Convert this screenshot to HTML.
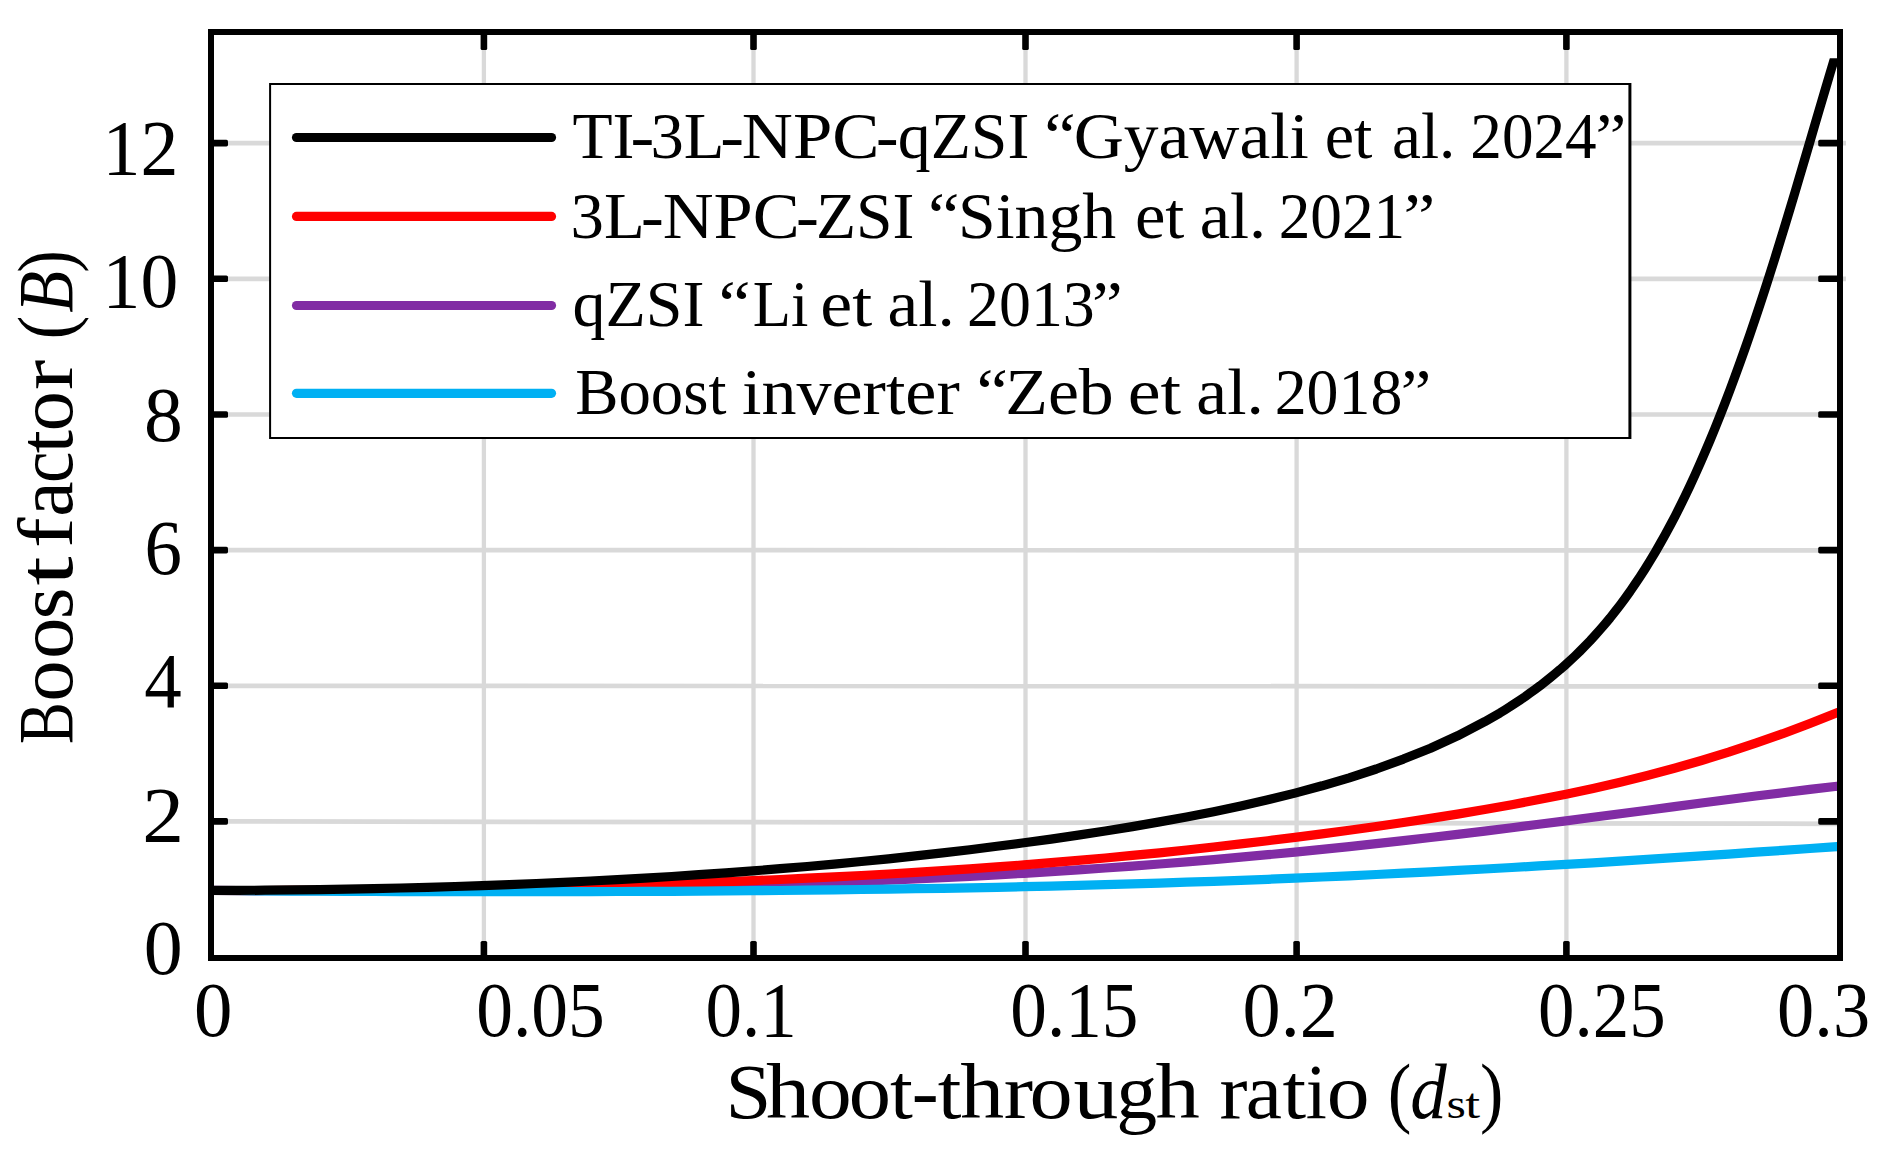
<!DOCTYPE html>
<html><head><meta charset="utf-8"><title>Boost factor vs shoot-through ratio</title>
<style>html,body{margin:0;padding:0;background:#fff}svg{display:block}</style></head>
<body>
<svg width="1884" height="1159" viewBox="0 0 1884 1159" font-family="'Liberation Serif', serif" fill="#000">
<rect width="1884" height="1159" fill="#fff"/>
<g stroke="#d9d9d9" stroke-width="4.7" fill="none">
<line x1="483.9" y1="35" x2="483.9" y2="955" stroke-width="4.3"/>
<line x1="753.5" y1="35" x2="753.5" y2="955" stroke-width="4.3"/>
<line x1="1025.5" y1="35" x2="1025.5" y2="955" stroke-width="4.3"/>
<line x1="1296.6" y1="35" x2="1296.6" y2="955" stroke-width="4.3"/>
<line x1="1566.4" y1="35" x2="1566.4" y2="955" stroke-width="4.3"/>
<line x1="214" y1="821.4" x2="1837" y2="823.8"/>
<line x1="214" y1="685.8" x2="1837" y2="686.4"/>
<line x1="214" y1="550.1" x2="1837" y2="550.4"/>
<line x1="214" y1="414.5" x2="1837" y2="414.5"/>
<line x1="214" y1="278.8" x2="1846" y2="278.8"/>
<line x1="214" y1="143.1" x2="1846" y2="143.1"/>
</g>
<rect x="270.1" y="84" width="1359.6" height="354" fill="#fff" stroke="#000" stroke-width="2"/>
<line x1="1630" y1="83" x2="1630" y2="439" stroke="#000" stroke-width="2.8"/>
<clipPath id="c"><rect x="211" y="58.3" width="1629" height="900"/></clipPath>
<g clip-path="url(#c)" fill="none" stroke-width="9.2" stroke-linejoin="round">
<path d="M211.0 890.3 L238.1 890.5 L265.2 890.6 L292.3 890.7 L319.4 890.7 L346.5 890.7 L373.6 890.6 L400.7 890.5 L427.8 890.4 L454.9 890.2 L482.0 890.0 L509.1 889.7 L536.2 889.4 L563.3 889.0 L590.4 888.6 L617.5 888.1 L644.6 887.6 L671.7 887.1 L698.8 886.4 L725.9 885.7 L753.0 885.0 L780.1 884.1 L807.2 883.2 L834.3 882.3 L861.4 881.2 L888.5 880.1 L915.6 878.9 L942.7 877.6 L969.8 876.3 L996.9 874.8 L1024.0 873.3 L1051.1 871.6 L1078.2 869.9 L1105.3 868.0 L1132.4 866.1 L1159.5 864.0 L1186.6 861.8 L1213.7 859.6 L1240.8 857.2 L1267.9 854.7 L1295.0 852.1 L1322.1 849.4 L1349.2 846.6 L1376.3 843.6 L1403.4 840.6 L1430.5 837.5 L1457.6 834.4 L1484.7 831.1 L1511.8 827.7 L1538.9 824.3 L1566.0 820.9 L1593.1 817.3 L1620.2 813.8 L1647.3 810.2 L1674.4 806.6 L1701.5 803.0 L1728.6 799.5 L1755.7 796.0 L1782.8 792.7 L1809.9 789.4 L1837.0 786.3 L1840.5 786.0" stroke="#812ca4"/>
<path d="M211.0 890.5 L238.1 890.6 L265.2 890.5 L292.3 890.4 L319.4 890.3 L346.5 890.1 L373.6 889.9 L400.7 889.6 L427.8 889.2 L454.9 888.8 L482.0 888.4 L509.1 887.9 L536.2 887.3 L563.3 886.7 L590.4 886.0 L617.5 885.3 L644.6 884.5 L671.7 883.6 L698.8 882.7 L725.9 881.7 L753.0 880.6 L780.1 879.5 L807.2 878.2 L834.3 876.9 L861.4 875.5 L888.5 874.0 L915.6 872.4 L942.7 870.7 L969.8 868.9 L996.9 866.9 L1024.0 864.9 L1051.1 862.7 L1078.2 860.4 L1105.3 858.0 L1132.4 855.4 L1159.5 852.8 L1186.6 850.0 L1213.7 847.0 L1240.8 843.9 L1267.9 840.7 L1295.0 837.4 L1322.1 833.9 L1349.2 830.3 L1376.3 826.5 L1403.4 822.5 L1430.5 818.4 L1457.6 814.1 L1484.7 809.5 L1511.8 804.7 L1538.9 799.6 L1566.0 794.2 L1593.1 788.4 L1620.2 782.2 L1647.3 775.5 L1674.4 768.3 L1701.5 760.5 L1728.6 752.2 L1755.7 743.2 L1782.8 733.7 L1809.9 723.5 L1837.0 712.8 L1840.5 711.4" stroke="#ff0000"/>
<path d="M211.0 890.5 L238.1 890.7 L265.2 890.9 L292.3 891.1 L319.4 891.2 L346.5 891.4 L373.6 891.5 L400.7 891.6 L427.8 891.7 L454.9 891.7 L482.0 891.7 L509.1 891.7 L536.2 891.7 L563.3 891.7 L590.4 891.6 L617.5 891.5 L644.6 891.4 L671.7 891.3 L698.8 891.1 L725.9 890.9 L753.0 890.7 L780.1 890.5 L807.2 890.2 L834.3 889.9 L861.4 889.5 L888.5 889.1 L915.6 888.7 L942.7 888.3 L969.8 887.8 L996.9 887.3 L1024.0 886.7 L1051.1 886.1 L1078.2 885.4 L1105.3 884.7 L1132.4 883.9 L1159.5 883.1 L1186.6 882.2 L1213.7 881.3 L1240.8 880.3 L1267.9 879.3 L1295.0 878.1 L1322.1 877.0 L1349.2 875.8 L1376.3 874.5 L1403.4 873.2 L1430.5 871.8 L1457.6 870.4 L1484.7 869.0 L1511.8 867.5 L1538.9 865.9 L1566.0 864.4 L1593.1 862.8 L1620.2 861.1 L1647.3 859.4 L1674.4 857.7 L1701.5 855.9 L1728.6 854.1 L1755.7 852.2 L1782.8 850.4 L1809.9 848.5 L1837.0 846.6 L1840.5 846.3" stroke="#00b0f3"/>
<path d="M211.0 890.4 L238.1 890.4 L265.2 890.2 L292.3 889.9 L319.4 889.6 L346.5 889.2 L373.6 888.6 L400.7 888.0 L427.8 887.3 L454.9 886.5 L482.0 885.6 L509.1 884.6 L536.2 883.5 L563.3 882.3 L590.4 881.0 L617.5 879.6 L644.6 878.1 L671.7 876.5 L698.8 874.7 L725.9 872.8 L753.0 870.9 L780.1 868.7 L807.2 866.5 L834.3 864.1 L861.4 861.5 L888.5 858.8 L915.6 855.9 L942.7 852.9 L969.8 849.7 L996.9 846.3 L1024.0 842.8 L1051.1 839.1 L1078.2 835.1 L1105.3 831.0 L1132.4 826.6 L1159.5 821.9 L1186.6 817.0 L1213.7 811.7 L1240.8 805.9 L1267.9 799.8 L1295.0 793.1 L1322.1 785.8 L1349.2 777.8 L1376.3 769.0 L1403.4 759.1 L1430.5 748.2 L1457.6 735.8 L1484.7 721.7 L1500.0 712.9 L1505.0 709.8 L1510.0 706.7 L1515.0 703.4 L1520.0 700.1 L1525.0 696.7 L1530.0 693.1 L1535.0 689.5 L1540.0 685.8 L1545.0 681.9 L1550.0 677.9 L1555.0 673.8 L1560.0 669.6 L1565.0 665.2 L1570.0 660.7 L1575.0 656.0 L1580.0 651.1 L1585.0 646.1 L1590.0 640.9 L1595.0 635.4 L1600.0 629.8 L1605.0 624.0 L1610.0 618.0 L1615.0 611.7 L1620.0 605.2 L1625.0 598.4 L1630.0 591.5 L1635.0 584.2 L1640.0 576.7 L1645.0 568.9 L1650.0 560.9 L1655.0 552.6 L1660.0 543.9 L1665.0 535.0 L1670.0 525.8 L1675.0 516.3 L1680.0 506.4 L1685.0 496.2 L1690.0 485.7 L1695.0 474.9 L1700.0 463.7 L1705.0 452.2 L1710.0 440.4 L1715.0 428.3 L1720.0 415.8 L1725.0 403.0 L1730.0 389.9 L1735.0 376.4 L1740.0 362.7 L1745.0 348.6 L1750.0 334.2 L1755.0 319.5 L1760.0 304.5 L1765.0 289.2 L1770.0 273.6 L1775.0 257.8 L1780.0 241.7 L1785.0 225.4 L1790.0 208.9 L1795.0 192.2 L1800.0 175.3 L1805.0 158.4 L1810.0 141.4 L1815.0 124.3 L1820.0 107.3 L1825.0 90.4 L1830.0 73.5 L1835.0 56.9 L1836.0 53.6" stroke="#000000"/>
</g>
<rect x="211" y="32" width="1629" height="926" fill="none" stroke="#000" stroke-width="6"/>
<g fill="#000">
<rect x="480.6" y="941" width="6.6" height="16" rx="1.6"/>
<rect x="480.6" y="33" width="6.6" height="17" rx="1.6"/>
<rect x="750.2" y="941" width="6.6" height="16" rx="1.6"/>
<rect x="750.2" y="33" width="6.6" height="17" rx="1.6"/>
<rect x="1022.2" y="941" width="6.6" height="16" rx="1.6"/>
<rect x="1022.2" y="33" width="6.6" height="17" rx="1.6"/>
<rect x="1293.3" y="941" width="6.6" height="16" rx="1.6"/>
<rect x="1293.3" y="33" width="6.6" height="17" rx="1.6"/>
<rect x="1563.1" y="941" width="6.6" height="16" rx="1.6"/>
<rect x="1563.1" y="33" width="6.6" height="17" rx="1.6"/>
<rect x="212" y="818.1" width="16" height="6.6" rx="1.6"/>
<rect x="1818.2" y="818.1" width="21" height="6.6" rx="1.6"/>
<rect x="212" y="682.5" width="16" height="6.6" rx="1.6"/>
<rect x="1818.2" y="682.5" width="21" height="6.6" rx="1.6"/>
<rect x="212" y="546.8" width="16" height="6.6" rx="1.6"/>
<rect x="1818.2" y="546.8" width="21" height="6.6" rx="1.6"/>
<rect x="212" y="411.2" width="16" height="6.6" rx="1.6"/>
<rect x="1818.2" y="411.2" width="21" height="6.6" rx="1.6"/>
<rect x="212" y="275.5" width="16" height="6.6" rx="1.6"/>
<rect x="1818.2" y="275.5" width="21" height="6.6" rx="1.6"/>
<rect x="212" y="139.8" width="16" height="6.6" rx="1.6"/>
<rect x="1818.2" y="139.8" width="21" height="6.6" rx="1.6"/>
</g>
<g stroke-width="9.2" stroke-linecap="round">
<line x1="296.5" y1="137.5" x2="551.5" y2="137.5" stroke="#000"/>
<line x1="296.5" y1="216.4" x2="551.5" y2="216.4" stroke="#ff0000"/>
<line x1="296.5" y1="305.5" x2="551.5" y2="305.5" stroke="#812ca4"/>
<line x1="296.5" y1="393.3" x2="551.5" y2="393.3" stroke="#00b0f3"/>
</g>
<text transform="translate(572.46 158.10) scale(0.9940 1.0000)" font-size="66">TI</text>
<text transform="translate(630.49 158.10) scale(1.0824 1.0000)" font-size="66">-</text>
<text transform="translate(650.52 158.10) scale(1.0091 1.0000)" font-size="66">3L</text>
<text transform="translate(720.29 158.10) scale(1.0824 1.0000)" font-size="66">-</text>
<text transform="translate(741.85 158.10) scale(1.0729 1.0000)" font-size="66">NPC</text>
<text transform="translate(875.94 158.10) scale(1.0235 1.0000)" font-size="66">-</text>
<text transform="translate(897.76 158.10) scale(0.9969 1.0000)" font-size="66">qZSI</text>
<text transform="translate(1044.31 158.10) scale(1.0753 1.0000)" font-size="66">“</text>
<text transform="translate(1073.71 158.10) scale(1.0519 1.0000)" font-size="66">Gyawali</text>
<text transform="translate(1324.70 158.10) scale(1.0011 1.0000)" font-size="66">et</text>
<text transform="translate(1391.98 158.10) scale(0.9870 1.0000)" font-size="66">al.</text>
<text transform="translate(1470.33 158.10) scale(0.9562 1.0000)" font-size="66">2024</text>
<text transform="translate(1595.51 158.10) scale(1.0511 1.0000)" font-size="66">”</text>
<text transform="translate(570.51 237.70) scale(1.0121 1.0000)" font-size="66">3L</text>
<text transform="translate(641.01 237.70) scale(1.0353 1.0000)" font-size="66">-</text>
<text transform="translate(662.67 237.70) scale(1.0672 1.0000)" font-size="66">NPC</text>
<text transform="translate(796.10 237.70) scale(1.0412 1.0000)" font-size="66">-</text>
<text transform="translate(816.07 237.70) scale(0.9936 1.0000)" font-size="66">ZSI</text>
<text transform="translate(928.01 237.70) scale(1.0753 1.0000)" font-size="66">“</text>
<text transform="translate(958.08 237.70) scale(1.0266 1.0000)" font-size="66">Singh</text>
<text transform="translate(1134.90 237.70) scale(1.0391 1.0000)" font-size="66">et</text>
<text transform="translate(1199.67 237.70) scale(1.0372 1.0000)" font-size="66">al.</text>
<text transform="translate(1278.72 237.70) scale(0.9584 1.0000)" font-size="66">2021</text>
<text transform="translate(1403.52 237.70) scale(1.0851 1.0000)" font-size="66">”</text>
<text transform="translate(572.55 325.90) scale(0.9992 1.0000)" font-size="66">qZSI</text>
<text transform="translate(718.54 325.90) scale(1.0968 1.0000)" font-size="66">“</text>
<text transform="translate(752.70 325.90) scale(0.9484 1.0000)" font-size="66">Li</text>
<text transform="translate(820.27 325.90) scale(1.0905 1.0000)" font-size="66">et</text>
<text transform="translate(887.44 325.90) scale(1.0494 1.0000)" font-size="66">al.</text>
<text transform="translate(967.10 325.90) scale(0.9676 1.0000)" font-size="66">2013</text>
<text transform="translate(1092.12 325.90) scale(1.0468 1.0000)" font-size="66">”</text>
<text transform="translate(575.24 413.90) scale(0.9819 1.0000)" font-size="66">Boost</text>
<text transform="translate(742.07 413.90) scale(1.0609 1.0000)" font-size="66">inverter</text>
<text transform="translate(976.51 413.90) scale(1.0753 1.0000)" font-size="66">“</text>
<text transform="translate(1005.26 413.90) scale(1.0574 1.0000)" font-size="66">Zeb</text>
<text transform="translate(1127.70 413.90) scale(1.1218 1.0000)" font-size="66">et</text>
<text transform="translate(1196.33 413.90) scale(1.0528 1.0000)" font-size="66">al.</text>
<text transform="translate(1274.70 413.90) scale(0.9676 1.0000)" font-size="66">2018</text>
<text transform="translate(1400.63 413.90) scale(1.0426 1.0000)" font-size="66">”</text>
<text transform="translate(194.02 1036.20) scale(0.9924 1.0000)" font-size="77.5">0</text>
<text transform="translate(476.15 1036.20) scale(0.9495 1.0000)" font-size="77.5">0.05</text>
<text transform="translate(705.47 1036.20) scale(0.9423 1.0000)" font-size="77.5">0.1</text>
<text transform="translate(1010.27 1036.20) scale(0.9449 1.0000)" font-size="77.5">0.15</text>
<text transform="translate(1242.55 1036.20) scale(0.9838 1.0000)" font-size="77.5">0.2</text>
<text transform="translate(1537.97 1036.20) scale(0.9418 1.0000)" font-size="77.5">0.25</text>
<text transform="translate(1777.12 1036.20) scale(0.9604 1.0000)" font-size="77.5">0.3</text>
<text transform="translate(143.69 974.30) scale(1.0046 1.0000)" font-size="77.5">0</text>
<text transform="translate(142.23 840.88) scale(1.0774 1.0000)" font-size="77.5">2</text>
<text transform="translate(144.15 707.46) scale(0.9667 1.0000)" font-size="77.5">4</text>
<text transform="translate(144.45 574.04) scale(0.9684 1.0000)" font-size="77.5">6</text>
<text transform="translate(144.00 440.62) scale(1.0015 1.0000)" font-size="77.5">8</text>
<text transform="translate(102.61 307.20) scale(0.9756 1.0000)" font-size="77.5">10</text>
<text transform="translate(102.59 173.78) scale(0.9789 1.0000)" font-size="77.5">12</text>
<text transform="translate(725.52 1117.60) scale(1.0636 1.0000)" font-size="77.5">S</text>
<text transform="translate(766.05 1117.60) scale(1.1378 1.0000)" font-size="77.5">h</text>
<text transform="translate(809.09 1117.60) scale(1.1023 1.0000)" font-size="77.5">o</text>
<text transform="translate(848.83 1117.60) scale(1.0901 1.0000)" font-size="77.5">o</text>
<text transform="translate(890.10 1117.60) scale(1.0617 1.0000)" font-size="77.5">t</text>
<text transform="translate(911.83 1117.60) scale(1.0420 1.0000)" font-size="77.5">-</text>
<text transform="translate(937.67 1117.60) scale(1.1012 1.0000)" font-size="77.5">t</text>
<text transform="translate(960.35 1117.60) scale(1.1324 1.0000)" font-size="77.5">h</text>
<text transform="translate(1003.69 1117.60) scale(1.1368 1.0000)" font-size="77.5">r</text>
<text transform="translate(1029.46 1117.60) scale(1.1145 1.0000)" font-size="77.5">o</text>
<text transform="translate(1073.54 1117.60) scale(1.1589 1.0000)" font-size="77.5">u</text>
<text transform="translate(1116.17 1117.60) scale(1.0559 1.0000)" font-size="77.5">g</text>
<text transform="translate(1155.44 1117.60) scale(1.1432 1.0000)" font-size="77.5">h</text>
<text transform="translate(1219.57 1117.60) scale(1.0863 1.0000)" font-size="77.5">r</text>
<text transform="translate(1245.81 1117.60) scale(1.0525 1.0000)" font-size="77.5">a</text>
<text transform="translate(1282.38 1117.60) scale(1.0963 1.0000)" font-size="77.5">t</text>
<text transform="translate(1305.63 1117.60) scale(0.9784 1.0000)" font-size="77.5">i</text>
<text transform="translate(1326.78 1117.60) scale(1.1053 1.0000)" font-size="77.5">o</text>
<text transform="translate(1387.79 1117.60) scale(0.9165 1.0000)" font-size="77.5">(</text>
<text transform="translate(1480.04 1117.60) scale(0.9050 1.0000)" font-size="77.5">)</text>
<text transform="translate(1410.28 1117.60) scale(0.9415 1.0000)" font-size="77.5" font-style="italic">d</text>
<text transform="translate(1446.58 1117.60) scale(1.1556 1.0000)" font-size="43">s</text>
<text transform="translate(1465.28 1117.60) scale(1.2444 1.0000)" font-size="43">t</text>
<text transform="translate(71.80 744.02) rotate(-90) scale(0.8109 1)" font-size="77.5">B</text>
<text transform="translate(71.80 701.72) rotate(-90) scale(1.0718 1)" font-size="77.5">o</text>
<text transform="translate(71.80 659.02) rotate(-90) scale(1.0718 1)" font-size="77.5">o</text>
<text transform="translate(71.80 619.33) rotate(-90) scale(1.0557 1)" font-size="77.5">s</text>
<text transform="translate(71.80 585.62) rotate(-90) scale(1.3580 1)" font-size="77.5">t</text>
<text transform="translate(71.80 548.06) rotate(-90) scale(1.1830 1)" font-size="77.5">f</text>
<text transform="translate(71.80 516.83) rotate(-90) scale(1.0295 1)" font-size="77.5">a</text>
<text transform="translate(71.80 482.95) rotate(-90) scale(0.9172 1)" font-size="77.5">c</text>
<text transform="translate(71.80 453.21) rotate(-90) scale(1.0765 1)" font-size="77.5">t</text>
<text transform="translate(71.80 431.30) rotate(-90) scale(1.0321 1)" font-size="77.5">o</text>
<text transform="translate(71.80 390.06) rotate(-90) scale(1.1705 1)" font-size="77.5">r</text>
<text transform="translate(71.80 339.54) rotate(-90) scale(0.9266 1)" font-size="77.5">(</text>
<text transform="translate(71.80 272.69) rotate(-90) scale(0.8750 1)" font-size="77.5">)</text>
<text transform="translate(71.80 312.66) rotate(-90) scale(0.8822 1)" font-size="77.5" font-style="italic">B</text>
</svg>
</body></html>
